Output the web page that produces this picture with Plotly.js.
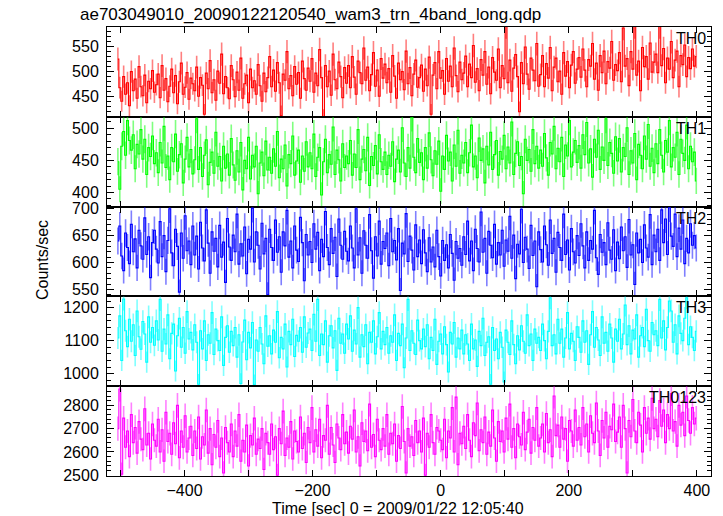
<!DOCTYPE html>
<html><head><meta charset="utf-8">
<script src="https://cdn.plot.ly/plotly-3.0.1.min.js"></script>
<style>html,body{margin:0;padding:0;background:#fff}#chart{width:723px;height:516px}</style>
</head><body><div id="chart"></div>
<script>
// time bins (sec) : start and width
const tStart = -504;
const binWidth = 3;
const bandNames = ["TH0", "TH1", "TH2", "TH3", "TH0123"];

const th0 = [
525,468,441,490,455,478,432,500,462,485,447,510,470,452,493,438,481,466,502,459,
474,495,448,512,463,486,440,471,505,458,492,436,480,517,455,469,498,445,487,476,
462,509,451,488,473,415,497,466,522,458,484,443,501,477,535,456,490,468,446,512,
484,450,499,463,527,447,476,493,438,505,468,482,455,514,472,441,497,460,488,530,
470,503,461,518,478,412,495,483,540,466,492,452,510,475,498,447,521,486,463,507,
481,526,459,497,472,544,488,405,512,470,501,453,535,484,466,519,490,448,508,477,
512,468,530,489,455,521,498,476,547,483,509,462,494,538,471,503,451,526,487,515,
478,506,459,532,491,447,517,484,500,464,541,476,508,452,495,523,469,488,513,461,
505,472,529,415,493,518,466,540,487,502,455,526,481,511,470,547,492,460,519,484,
497,531,470,515,488,552,479,506,462,524,493,540,475,509,456,528,499,483,545,468,
512,486,590,478,523,461,507,534,490,420,518,476,549,495,465,527,503,482,556,471,
494,532,470,516,487,548,462,509,527,480,501,455,538,491,520,468,513,540,477,505,
528,489,545,503,470,524,511,556,485,517,463,532,498,541,476,520,507,560,483,514,
502,538,480,587,511,526,472,540,505,590,493,521,462,548,510,530,485,557,499,519,
535,498,590,512,546,478,527,505,560,488,523,541,470,532,514,553,490,528,506,545,
511,530];

const th1 = [
448,405,472,495,458,512,481,466,490,437,475,460,498,452,483,428,470,456,488,445,
462,431,478,446,503,439,457,420,470,448,491,433,459,476,415,452,486,440,467,429,
451,515,436,470,425,458,482,412,447,463,430,494,441,456,418,472,438,460,427,484,
443,419,465,432,478,404,450,437,486,421,458,440,472,398,446,463,426,480,435,455,
430,468,441,495,423,452,437,474,410,459,445,488,427,449,466,416,457,433,479,440,
462,437,491,425,455,470,396,448,483,431,459,444,502,428,466,451,418,476,439,457,
445,481,427,460,439,498,420,452,467,434,486,411,456,442,473,429,490,448,436,463,
428,458,441,479,417,452,466,432,501,446,425,470,438,518,455,431,484,447,462,420,
470,438,493,451,426,465,444,480,402,457,436,489,449,463,418,474,441,497,430,458,
446,478,431,462,505,440,457,423,485,450,468,415,472,443,494,436,459,481,427,464,
452,489,437,471,446,510,428,461,479,442,456,398,483,450,467,433,498,445,472,438,
466,441,492,454,427,478,460,503,437,469,448,486,425,474,457,512,440,463,481,447,
473,438,490,459,509,446,468,424,483,455,497,436,471,450,515,442,478,461,430,487,
449,484,432,470,456,501,428,465,446,492,420,475,458,437,488,452,506,441,469,431,
476,445,498,458,432,481,463,512,440,470,455,494,428,483,461,450,505,437,472,448,
463,418];

const th2 = [
640,668,612,585,655,628,598,671,620,644,590,660,631,606,683,615,648,572,637,660,
625,599,676,611,650,583,641,700,618,594,662,630,545,655,608,687,622,640,596,668,
614,649,588,675,627,603,698,636,580,657,621,645,592,669,610,638,563,682,629,604,
651,620,690,597,635,612,666,579,643,625,701,601,657,632,588,673,616,645,540,662,
628,604,679,619,648,582,657,631,697,610,640,590,668,623,602,684,637,566,652,614,
639,600,672,625,656,585,643,611,695,628,596,663,617,647,574,681,632,606,658,621,
603,668,627,590,700,614,646,580,659,632,608,689,622,571,648,612,677,597,639,626,
655,594,682,620,641,605,663,548,636,616,691,602,649,623,586,670,611,642,598,661,
618,583,646,601,629,592,660,611,575,641,604,633,590,652,617,567,639,608,626,595,
648,615,677,603,640,585,662,626,601,694,619,645,580,658,632,609,671,597,637,614,
660,593,642,621,686,608,651,570,634,616,699,600,647,625,589,669,613,640,555,657,
624,601,668,633,595,679,617,645,582,656,628,604,690,615,642,586,663,620,599,650,
613,672,631,590,657,604,641,625,697,609,578,652,619,637,596,674,623,606,661,585,
638,607,666,622,648,591,680,614,633,559,655,618,643,600,670,627,610,689,596,651,
620,662,604,698,637,681,615,702,649,630,690,611,664,625,679,598,645,618,672,632,
650,627];

const th3 = [
1108,1175,1040,1226,1130,1082,1165,1098,1148,1055,1190,1112,1074,1158,1120,1035,1172,1095,1140,1086,
1160,1102,1225,1068,1135,1090,1178,1045,1122,1150,1008,1115,1168,1080,1140,1062,1188,1105,1125,1072,
1148,1095,968,1130,1075,1160,1040,1118,1092,1185,1058,1135,1100,1070,1172,1025,1110,1145,1065,1128,
1085,1140,1050,1118,970,1096,1162,1042,1125,1078,1155,966,1102,1068,1140,1090,1030,1175,1083,1115,
1060,1132,1095,1188,1048,1110,1075,1150,1020,1128,1088,1165,1052,1116,1098,1140,1065,1172,1080,1123,
1135,1070,1180,1098,1225,1055,1120,1088,1160,1035,1115,1145,1078,1130,1010,1168,1092,1120,1062,1150,
1105,1175,1068,1132,1090,1200,1050,1118,1082,1148,1030,1125,1095,1160,1060,1112,1185,1075,1128,1088,
1140,1062,1115,1095,1178,1040,1122,1085,1150,1018,1108,1225,1070,1130,1092,1058,1162,1100,1075,1135,
1082,1148,1045,1110,1070,1165,1028,1098,1120,1060,1142,1088,1005,1125,1090,1155,1050,1108,1075,1132,
1060,1118,1090,1040,1150,1075,1102,1022,1128,1085,1168,1055,1095,1112,968,1140,1070,1105,1045,1125,
1080,975,1132,1095,1058,1160,1088,1030,1115,1072,1145,1098,1062,1178,1085,1120,1040,1135,1092,1110,
1070,1150,1100,1045,1128,1230,1085,1118,1060,1165,1092,1135,1050,1108,1185,1075,1122,1098,1040,1142,
1110,1065,1160,1095,1130,1028,1118,1188,1080,1140,1102,1055,1172,1092,1125,1068,1150,1108,1035,1135,
1098,1165,1075,1120,1208,1088,1145,1060,1132,1105,1178,1050,1115,1140,1082,1195,1100,1068,1155,1118,
1130,1085,1225,1108,1160,1072,1140,1220,1190,1095,1148,1060,1175,1122,1100,1168,1230,1088,1142,1110,
1070,1128];

const th0123 = [
2700,2870,2505,2745,2620,2690,2580,2760,2640,2705,2595,2730,2655,2610,2785,2630,2680,2570,2720,2650,
2625,2740,2600,2695,2560,2770,2645,2680,2590,2725,2635,2800,2575,2690,2620,2755,2600,2660,2710,2585,
2690,2615,2750,2570,2665,2630,2780,2595,2700,2545,2675,2620,2735,2580,2660,2510,2705,2640,2600,2720,
2580,2690,2625,2760,2560,2650,2600,2715,2540,2670,2630,2745,2590,2655,2615,2700,2525,2680,2640,2590,
2720,2610,2665,2500,2700,2635,2775,2585,2660,2620,2730,2570,2690,2645,2600,2750,2615,2680,2555,2705,
2640,2790,2600,2695,2625,2740,2575,2670,2650,2800,2590,2705,2630,2555,2720,2660,2610,2760,2635,2685,
2595,2710,2655,2780,2600,2665,2540,2725,2645,2690,2605,2805,2620,2675,2580,2740,2650,2610,2700,2625,
2760,2590,2680,2635,2720,2560,2670,2615,2795,2645,2510,2700,2625,2665,2585,2735,2640,2690,2600,2745,
2500,2680,2620,2760,2640,2590,2705,2690,2650,2610,2740,2575,2690,2660,2790,2600,2835,2545,2680,2635,
2710,2615,2760,2650,2580,2725,2670,2810,2605,2695,2640,2750,2590,2685,2625,2780,2660,2560,2730,2645,
2690,2600,2745,2655,2805,2620,2700,2575,2720,2665,2630,2770,2610,2685,2740,2595,2705,2650,2790,2625,
2660,2720,2600,2765,2640,2695,2580,2840,2670,2715,2620,2750,2655,2700,2560,2735,2690,2625,2780,2650,
2705,2630,2790,2665,2720,2600,2755,2680,2640,2810,2690,2585,2735,2660,2770,2620,2710,2695,2805,2645,
2685,2750,2620,2800,2700,2510,2735,2665,2825,2690,2640,2770,2715,2600,2790,2680,2745,2655,2830,2700,
2740,2665,2820,2710,2780,2640,2760,2700,2850,2690,2730,2625,2800,2715,2770,2670,2840,2735,2680,2790,
2720,2745];

const allSeries = [th0, th1, th2, th3, th0123];
const lineColors = ["#ff0000", "#00ff00", "#0000ff", "#00ffff", "#ff00ff"];
const errColors = ["rgba(255,0,0,0.5)", "rgba(0,255,0,0.5)", "rgba(0,0,255,0.5)", "rgba(0,255,255,0.5)", "rgba(255,0,255,0.5)"];
const yRanges = [[410, 589], [378, 518], [537, 704], [962, 1234], [2497, 2882]];
const yDticks = [50, 50, 50, 100, 100];
const yMinor = [10, 10, 10, 20, 20];

const font = "Liberation Sans, Arial, Helvetica, sans-serif";
const traces = [];
const layout = {
  width: 723, height: 516,
  margin: {l: 107, r: 12, t: 27, b: 40},
  paper_bgcolor: "#fff", plot_bgcolor: "#fff",
  showlegend: false,
  font: {family: font, size: 16, color: "#000"},
  title: {text: "ae703049010_20090122120540_wam3_trn_4band_long.qdp", xref: "container", yref: "container",
          x: 80/723, xanchor: "left", y: 1 - 14/516, yanchor: "middle", font: {family: font, size: 17, color: "#000"}},
  annotations: []
};

const n = allSeries.length;
for (let i = 0; i < n; i++) {
  const ys = allSeries[i];
  const xs = ys.map((_, j) => tStart + j * binWidth);
  const k = i + 1;
  traces.push({
    type: "scatter", mode: "lines",
    x: xs, y: ys,
    xaxis: "x" + k, yaxis: "y" + k,
    line: {color: lineColors[i], width: 1.1, shape: "hvh"},
    error_y: {type: "sqrt", color: errColors[i], thickness: 1.6, width: 0},
    hoverinfo: "skip"
  });
  const top = 1 - i / n, bot = 1 - (i + 1) / n;
  const isBottom = (i === n - 1);
  layout["xaxis" + k] = {
    domain: [0, 1], anchor: "y" + k, range: [-521, 422],
    showgrid: false, zeroline: false, showline: true, linecolor: "#000", linewidth: 1,
    mirror: "ticks", ticks: "inside", ticklen: 6, tickcolor: "#000", tickwidth: 1,
    dtick: 200, tick0: 0, showticklabels: isBottom,
    minor: {dtick: 100, tick0: 0, ticks: "inside", ticklen: 6, tickcolor: "#000"},
    tickfont: {family: font, size: 16, color: "#000"}
  };
  if (!isBottom) layout["xaxis" + k].matches = "x" + n;
  layout["yaxis" + k] = {
    domain: [bot, top], anchor: "x" + k, range: yRanges[i],
    showgrid: false, zeroline: false, showline: true, linecolor: "#000", linewidth: 1,
    mirror: "ticks", ticks: "inside", ticklen: 7, tickcolor: "#000", tickwidth: 1,
    dtick: yDticks[i], tick0: 0, ticklabelstandoff: 4,
    minor: {dtick: yMinor[i], tick0: 0, ticks: "inside", ticklen: 4, tickcolor: "#000"},
    tickfont: {family: font, size: 16, color: "#000"}
  };
  layout.annotations.push({
    text: bandNames[i], xref: "paper", yref: "paper", x: 1, y: top,
    xanchor: "right", yanchor: "top", xshift: -3, yshift: -1, showarrow: false,
    font: {family: font, size: 16, color: "#000"}
  });
}
layout.annotations.push({
  text: "Counts/sec", xref: "paper", yref: "paper", x: 0, y: (476 - 260) / 449,
  xanchor: "center", yanchor: "middle", xshift: -65, textangle: -90, showarrow: false,
  font: {family: font, size: 16, color: "#000"}
});
layout.annotations.push({
  text: "Time [sec] 0 = 2009/01/22 12:05:40", xref: "paper", yref: "paper", x: (397.5 - 107) / 604, y: 0,
  xanchor: "center", yanchor: "middle", yshift: -32, showarrow: false,
  font: {family: font, size: 16, color: "#000"}
});

Plotly.newPlot("chart", traces, layout, {displayModeBar: false, staticPlot: true});
</script></body></html>
